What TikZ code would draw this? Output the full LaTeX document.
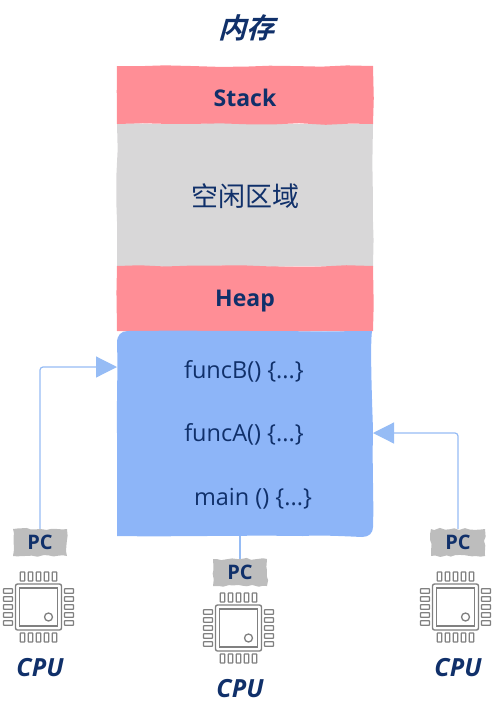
\documentclass[tikz,border=0pt]{standalone}
\usepackage{fontspec}
\setmainfont{Open Sans}
\newfontfamily\cjk{Noto Sans CJK SC}
\newfontfamily\cjktitle[FakeSlant=0.28]{Noto Sans CJK SC Bold}
\usepackage{xcolor}
\usetikzlibrary{
  arrows.meta,
  decorations.pathmorphing,
  positioning
}
\definecolor{inknavy}{RGB}{16,48,106}
\definecolor{heappink}{RGB}{255,142,150}
\definecolor{freegray}{RGB}{216,215,216}
\definecolor{codeblue}{RGB}{141,181,248}
\definecolor{flowblue}{RGB}{150,188,245}
\definecolor{pcgray}{RGB}{189,189,189}
\definecolor{chipgray}{RGB}{128,128,128}
\tikzset{
  sketchy/.style={decorate,decoration={random steps,segment length=26pt,amplitude=.8pt}},
  block/.style={sketchy,minimum width=256pt,inner sep=0pt,text=inknavy},
  region/.style={block,fill=heappink},
  regionlab/.style={text=inknavy,inner sep=0pt,font=\fontsize{23}{27}\selectfont\bfseries},
  funclab/.style={text=inknavy,inner sep=0pt,font=\fontsize{23.5}{28}\selectfont},
  pcbox/.style={decorate,decoration={random steps,segment length=5pt,amplitude=1.1pt},
    fill=pcgray,minimum width=54pt,minimum height=27pt,inner sep=0pt},
  pclab/.style={text=inknavy,inner sep=0pt,font=\fontsize{20}{23}\selectfont\bfseries},
  cpulab/.style={text=inknavy,inner sep=0pt,font=\fontsize{25}{29}\selectfont\itshape\bfseries},
  pcflow/.style={-{Triangle[length=21pt,width=21pt]},draw=flowblue,line width=1.2pt,rounded corners=3pt},
  chip/.pic={
    \draw[chipgray,line width=1.4pt,rounded corners=2pt] (-23,-23) rectangle (23,23);
    \draw[chipgray,line width=1.4pt] (-19,-19) rectangle (19,19);
    \draw[chipgray,line width=1.3pt] (10,10) circle (4);
    \foreach \k in {-16,-8,0,8,16} {
      \draw[chipgray,line width=1.2pt,rounded corners=.5pt] (\k-2.3,-35) rectangle (\k+2.3,-26);
      \draw[chipgray,line width=1.2pt,rounded corners=.5pt] (\k-2.3,26) rectangle (\k+2.3,35);
      \draw[chipgray,line width=1.2pt,rounded corners=.5pt] (-35,\k-2.3) rectangle (-26,\k+2.3);
      \draw[chipgray,line width=1.2pt,rounded corners=.5pt] (26,\k-2.3) rectangle (35,\k+2.3);
    }
  }
}

\begin{document}
\begin{tikzpicture}[x=1pt,y=-1pt]
  \pgfmathsetseed{7}
  \useasboundingbox (0,0) rectangle (496,724);
  \node[text=inknavy,font=\fontsize{28}{32}\selectfont\cjktitle] (mem) at (246,28) {内存};

  \node[block,fill=freegray,minimum height=143pt] (free) at (245,195) {};
  \node[text=inknavy,font=\fontsize{27}{32}\selectfont\cjk] (freelab) at (245,196) {空闲区域};
  \node[region,minimum height=58pt] (stack) at (245,95) {};
  \node[regionlab] (stacklab) at (245,98) {Stack};
  \node[region,minimum height=65pt] (heap) at (245,298.5) {};
  \node[regionlab] (heaplab) at (245,301.5) {Heap};

  % only two corners of the code block are round
  \fill[codeblue] (117,433) .. controls (116.5,400) and (118,370) .. (117,343)
    .. controls (117,335) and (121,331) .. (128,331)
    .. controls (200,330) and (300,332) .. (372,331)
    .. controls (370,345) and (372,400) .. (373,430)
    .. controls (372,470) and (374,500) .. (373,527)
    .. controls (373,533) and (369,537) .. (362,537)
    .. controls (340,536) and (320,535) .. (303,536)
    .. controls (240,535) and (170,537) .. (117,536) -- cycle;
  \node[minimum width=256pt,minimum height=205pt,inner sep=0pt] (code) at (245,433.5) {};
  \node[funclab] (funcb) at (244,371) {funcB() \{...\}};
  \node[funclab] (funca) at (244,434) {funcA() \{...\}};
  \node[funclab] (mainf) at (253,498.5) {main () \{...\}};

  \node[pcbox] (pcl) at (40,542.5) {};
  \node[pclab] (pcllab) at (40,542.5) {PC};
  \node[pcbox] (pcm) at (240,572.5) {};
  \node[pclab] (pcmlab) at (240,572.5) {PC};
  \node[pcbox] (pcr) at (458,542.5) {};
  \node[pclab] (pcrlab) at (458,542.5) {PC};

  \pic (chipl) at (38.5,607) {chip};
  \pic (chipm) at (238.5,628) {chip};
  \pic (chipr) at (455.5,607) {chip};

  \node[cpulab] (cpul) at (40,668) {CPU};
  \node[cpulab] (cpum) at (240,689) {CPU};
  \node[cpulab] (cpur) at (458,668) {CPU};

  \coordinate (inb) at (117,367);
  \coordinate (ina) at (373,433);
  \draw[pcflow] (pcl.north) |- (inb);
  \draw[pcflow] (pcr.north) |- (ina);
  \draw[draw=flowblue,line width=1.2pt] (code.south -| pcm) -- (pcm.north);
\end{tikzpicture}
\end{document}
